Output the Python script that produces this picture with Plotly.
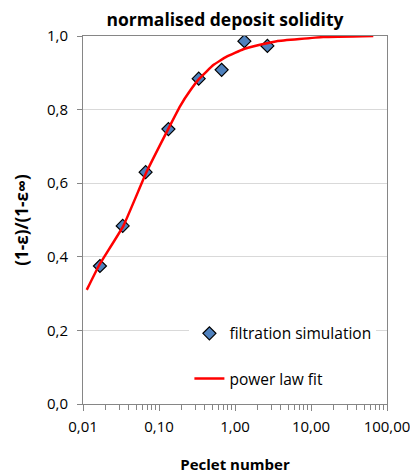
import plotly.graph_objects as go

# filtration simulation data
pe_sim = [0.0167, 0.0333, 0.0667, 0.133, 0.333, 0.667, 1.33, 2.67]
sol_sim = [0.375, 0.484, 0.630, 0.747, 0.884, 0.908, 0.986, 0.973]

# power law fit curve
pe_fit = [0.0112, 0.0163, 0.034, 0.068, 0.132, 0.189, 0.256, 0.339,
          0.518, 0.776, 1.285, 2.13, 3.54, 14.5, 66.0]
sol_fit = [0.310, 0.377, 0.484, 0.629, 0.747, 0.809, 0.851, 0.884,
           0.921, 0.944, 0.964, 0.976, 0.986, 0.997, 1.0]

x_tickvals = [0.01, 0.1, 1, 10, 100]
x_ticktext = ["0,01", "0,10", "1,00", "10,00", "100,00"]
y_tickvals = [0.0, 0.2, 0.4, 0.6, 0.8, 1.0]
y_ticktext = ["0,0", "0,2", "0,4", "0,6", "0,8", "1,0"]

FONT = "Open Sans"
AX = "#868686"

fig = go.Figure()
fig.add_trace(go.Scatter(
    x=pe_sim, y=sol_sim, mode="markers", name="filtration simulation",
    legendgroup="a",
    marker=dict(symbol="diamond", size=10, color="#4F81BD",
                line=dict(color="#000000", width=1.2)),
))
fig.add_trace(go.Scatter(
    x=pe_fit, y=sol_fit, mode="lines", name="power law fit",
    legendgroup="b", line=dict(color="#FF0000", width=2.5, shape="spline", smoothing=0.3),
))

# page body adds 8px offset; margins compensate
fig.update_layout(
    width=418, height=473,
    margin=dict(l=75, r=39, t=28, b=77, autoexpand=False),
    paper_bgcolor="white", plot_bgcolor="white",
    font=dict(family=FONT, size=15, color="#000000"),
    title=dict(text="<b>normalised deposit solidity</b>", x=0.519, xanchor="center",
               y=0.974, yanchor="middle", font=dict(size=17.5)),
    legend=dict(x=0.35, y=0.237, xanchor="left", yanchor="top",
                bgcolor="white", font=dict(size=15.5), tracegroupgap=22,
                traceorder="grouped", itemwidth=30),
    showlegend=True,
)
fig.update_xaxes(
    type="log", range=[-2, 2], automargin=False,
    tickvals=x_tickvals, ticktext=x_ticktext,
    ticks="outside", ticklen=6, tickcolor=AX, ticklabelstandoff=3,
    showline=True, linecolor=AX, linewidth=1, mirror=True,
    showgrid=False, zeroline=False,
    minor=dict(ticks="outside", ticklen=5, tickcolor=AX, showgrid=False, dtick="D1"),
    title=dict(text="<b>Peclet number</b>", standoff=24, font=dict(size=15)),
    tickfont=dict(size=15),
)
fig.update_yaxes(
    range=[0, 1], automargin=False, tickvals=y_tickvals, ticktext=y_ticktext,
    ticks="outside", ticklen=5, tickcolor=AX, ticklabelstandoff=6,
    showline=True, linecolor=AX, linewidth=1, mirror=True,
    showgrid=True, gridcolor="#D9D9D9", gridwidth=1, zeroline=False,
    title=dict(text="<b>(1-ε)/(1-ε∞)</b>", standoff=14, font=dict(size=17)),
    tickfont=dict(size=15),
)

fig.write_html("out.html")
